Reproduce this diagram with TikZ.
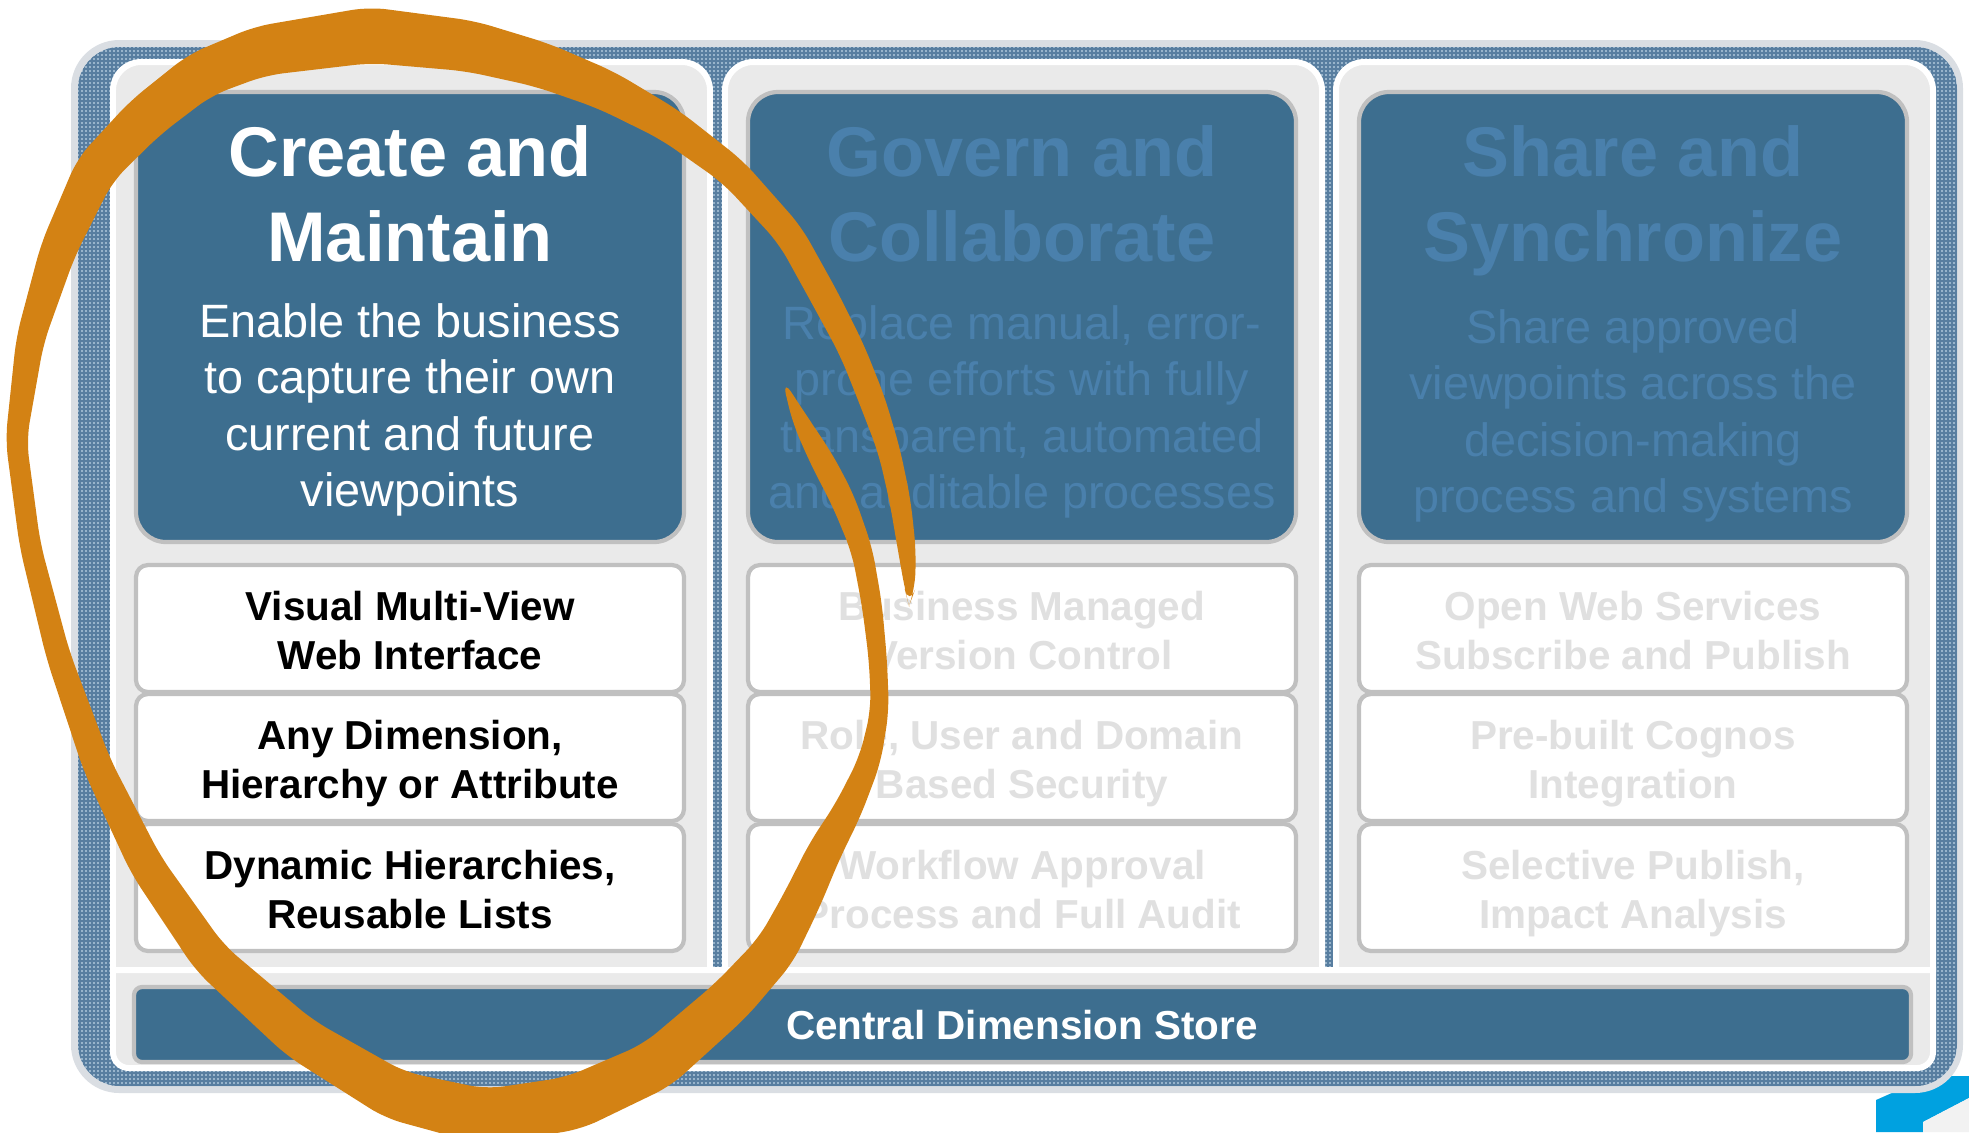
\documentclass[tikz,border=0pt]{standalone}
\usepackage{fontspec}
\setmainfont{Liberation Sans}
\usepackage{tikz}
\usetikzlibrary{calc}
\definecolor{headblue}{RGB}{61, 110, 143}
\definecolor{fadeblue}{RGB}{74, 128, 172}
\definecolor{fadegray}{RGB}{224, 224, 224}
\definecolor{boxgray}{RGB}{192, 192, 192}
\definecolor{panelgray}{RGB}{234, 234, 234}
\definecolor{framerim}{RGB}{218, 222, 227}
\definecolor{gridbase}{RGB}{152, 180, 203}
\definecolor{gridline}{RGB}{88, 126, 160}
\definecolor{markorange}{RGB}{211, 130, 20}
\definecolor{cornercyan}{RGB}{0, 161, 224}

\tikzset{
    panel/.style={fill=panelgray, draw=white, line width=1.7pt},
    headbox/.style={fill=headblue, draw=boxgray, line width=1.2pt, rounded corners=8.5pt},
    itembox/.style={fill=white, draw=boxgray, line width=1.2pt, rounded corners=3.4pt},
    titletext/.style={anchor=north, inner sep=0pt, align=center, font=\fontsize{20}{24}\selectfont\bfseries},
    bodytext/.style={anchor=north, inner sep=0pt, align=center, font=\fontsize{13.3}{16}\selectfont},
    itemtext/.style={anchor=north, inner sep=0pt, align=center, font=\fontsize{11.5}{14}\selectfont\bfseries},
    brush/.style={fill=markorange, rounded corners=5pt}
}

% centre line of the hand-drawn loop: x/y/width, in px
\def\brushpts{782/378/3, 800/420/16, 822/460/24, 843/500/24, 862/550/21, 872/605/20, 878/660/18,
    880/710/18, 870/760/22, 848/810/28, 825/850/34, 802/900/38, 776/950/42, 731/1000/46, 657/1065/50,
    574/1103/54, 485/1117/56, 395/1095/50, 300/1038/44, 210/958/38, 146/865/34, 97/765/29, 58/655/24,
    30/545/21, 16/440/21, 30/340/28, 58/250/36, 95/170/42, 145/118/45, 200/75/47, 260/51/50,
    370/35/56, 470/46/51, 542/65/45, 606/90/40, 670/125/34, 733/172/30, 790/235/28, 826/300/28,
    852/350/26, 872/400/26, 889/450/22, 900/500/21, 907/550/18, 910/590/10, 909/606/2}

\begin{document}
\begin{tikzpicture}[x=0.01cm, y=-0.01cm]
            \useasboundingbox (0,0) rectangle (1969,1132);
            % Corner mark
            \fill[cornercyan] (1876,1132) -- (1876,1100) -- (1930,1076) -- (1969,1076) -- (1969,1098) -- (1923,1122) -- (1923,1132) -- cycle;
            \fill[black!5]    (1923,1122) -- (1969,1098) -- (1969,1132) -- (1923,1132) -- cycle;
            % Frame with grid texture
            \fill[framerim, rounded corners=13.7pt] (71,40) rectangle (1963,1093);
            \fill[gridbase, rounded corners=12pt]   (78,47) rectangle (1957,1086);
            \begin{scope}
                \clip[rounded corners=12pt] (78,47) rectangle (1957,1086);
                \draw[gridline, line width=0.3pt] \foreach \gx in {80,84,...,1956} {(\gx,47) -- (\gx,1086)};
                \draw[gridline, line width=0.3pt] \foreach \gy in {49,53,...,1085} {(78,\gy) -- (1957,\gy)};
            \end{scope}
            % Columns: panel, header, three feature boxes
            \foreach \cx in {113,725,1336} {
                \filldraw[panel, rounded corners=8pt] (\cx,972) -- (\cx,62) -- (\cx+597,62) -- (\cx+597,972);
                \filldraw[headbox] (\cx+23,92) rectangle (\cx+571,542);
                \foreach \ty in {565,694,824}
                    \filldraw[itembox] (\cx+23,\ty) rectangle (\cx+571,\ty+127);
            }
            % Base panel and store bar
            \filldraw[panel] (113,970) [rounded corners=4.5pt] -- (113,1068) -- (1933,1068) [sharp corners] -- (1933,970) -- cycle;
            \filldraw[headbox, rounded corners=2.3pt] (134,987) rectangle (1911,1062);
            \node[itemtext, anchor=center, text=white] (store) at (1022,1025) {Central Dimension Store};

            % Create and Maintain
            \node[titletext, text=white] (create-title) at (410,125) {Create and\\Maintain};
            \node[bodytext, text=white]  (create-text)  at (410,303) {Enable the business\\to capture their own\\current and future\\viewpoints};
            \node[itemtext]              (create-a)     at (410,590) {Visual Multi-View\\Web Interface};
            \node[itemtext]              (create-b)     at (410,719) {Any Dimension,\\Hierarchy or Attribute};
            \node[itemtext]              (create-c)     at (410,849) {Dynamic Hierarchies,\\Reusable Lists};
            % Govern and Collaborate
            \node[titletext, text=fadeblue] (govern-title) at (1022,125) {Govern and\\Collaborate};
            \node[bodytext, text=fadeblue]  (govern-text)  at (1022,305) {Replace manual, error-\\prone efforts with fully\\transparent, automated\\and auditable processes};
            \node[itemtext, text=fadegray]  (govern-a)     at (1022,590) {Business Managed\\Version Control};
            \node[itemtext, text=fadegray]  (govern-b)     at (1022,719) {Role, User and Domain\\Based Security};
            \node[itemtext, text=fadegray]  (govern-c)     at (1022,849) {Workflow Approval\\Process and Full Audit};
            % Share and Synchronize
            \node[titletext, text=fadeblue] (share-title) at (1633,125) {Share and\\Synchronize};
            \node[bodytext, text=fadeblue]  (share-text)  at (1633,309) {Share approved\\viewpoints across the\\decision-making\\process and systems};
            \node[itemtext, text=fadegray]  (share-a)     at (1633,590) {Open Web Services\\Subscribe and Publish};
            \node[itemtext, text=fadegray]  (share-b)     at (1633,719) {Pre-built Cognos\\Integration};
            \node[itemtext, text=fadegray]  (share-c)     at (1633,849) {Selective Publish,\\Impact Analysis};

            % Hand-drawn loop round the first column:
            % centre points first, then both edges offset by half the width
            \foreach \bx/\by/\bw [count=\i] in \brushpts {
                \coordinate (c\i) at (\bx,\by);
                \xdef\brushn{\i}
            }
            \pgfmathtruncatemacro\bafter{\brushn+1}
            \pgfmathtruncatemacro\bbefore{\brushn-1}
            \coordinate (c0) at (c1);
            \coordinate (c\bafter) at (c\brushn);
            \foreach \bx/\by/\bw [count=\i] in \brushpts {
                \pgfmathtruncatemacro\iprev{\i-1}
                \pgfmathtruncatemacro\inext{\i+1}
                \pgfmathsetmacro\hw{0.14225*\bw}
                \coordinate (t) at ($(c\i)+(c\inext)-(c\iprev)$);
                \coordinate (l\i) at ($(c\i)!\hw pt!90:(t)$);
                \coordinate (r\i) at ($(c\i)!\hw pt!-90:(t)$);
            }
            \fill[brush] (c1) \foreach \i in {2,...,\bbefore} {-- (l\i)} -- (c\brushn)
                              \foreach \i in {\bbefore,...,2} {-- (r\i)} -- cycle;
\end{tikzpicture}
\end{document}
